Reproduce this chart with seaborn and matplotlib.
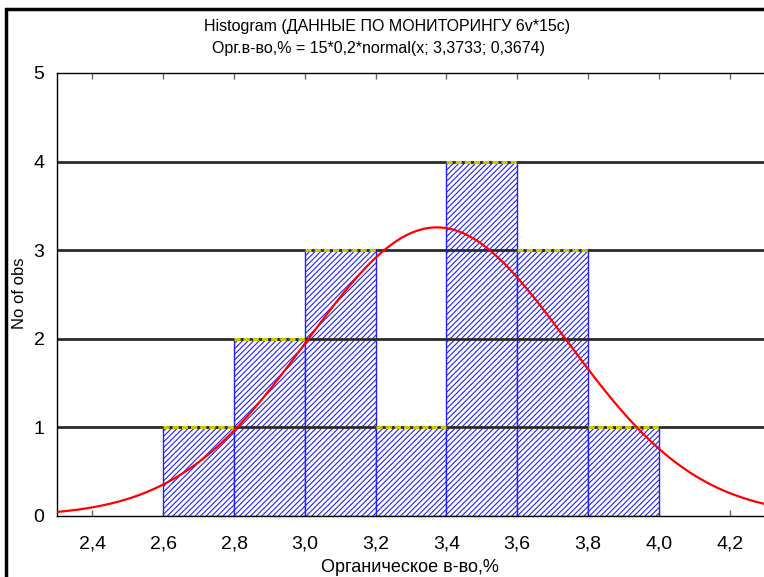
import numpy as np
import pandas as pd
import matplotlib
matplotlib.use("Agg")
import matplotlib.pyplot as plt
import seaborn as sns
from matplotlib.patches import Rectangle
from matplotlib.ticker import FuncFormatter, FixedLocator

# ---- data ----
bin_edges = [2.6, 2.8, 3.0, 3.2, 3.4, 3.6, 3.8, 4.0]
counts = [1, 2, 3, 1, 4, 3, 1]
fit_n = 15
fit_binwidth = 0.2
fit_mean = 3.3733
fit_sd = 0.3674
x_ticks = [2.4, 2.6, 2.8, 3.0, 3.2, 3.4, 3.6, 3.8, 4.0, 4.2]
y_ticks = [0, 1, 2, 3, 4, 5]
x_range = [2.3, 4.3]
y_range = [0, 5]
title_line1 = "Histogram (ДАННЫЕ ПО МОНИТОРИНГУ 6v*15c)"
title_line2 = "Орг.в-во,% = 15*0,2*normal(x; 3,3733; 0,3674)"
x_label = "Органическое в-во,%"
y_label = "No of obs"

sns.set_theme(style="white")
plt.rcParams["font.family"] = ["Liberation Sans", "DejaVu Sans"]
plt.rcParams["hatch.linewidth"] = 0.8

fig = plt.figure(figsize=(7.64, 5.77), dpi=100)
fig.patch.set_facecolor("white")
W, H = 764, 577
ax = fig.add_axes([57 / W, (H - 516) / H, (765 - 57) / W, (516 - 73) / H])
ax.set_facecolor("white")

centers = [(a + b) / 2 for a, b in zip(bin_edges[:-1], bin_edges[1:])]
df = pd.DataFrame({"x": centers, "n": counts})
sns.histplot(data=df, x="x", weights="n", bins=bin_edges, stat="count", ax=ax,
             element="bars", fill=True)
for p in ax.patches:
    p.set_facecolor("white")
    p.set_edgecolor("#2020ff")
    p.set_hatch("//////")
    p.set_linewidth(1.0)
    p.set_alpha(1.0)
    p.set_zorder(1)

# yellow top edges of bars
for a, b, c in zip(bin_edges[:-1], bin_edges[1:], counts):
    ax.hlines(c, a, b, colors="#c8c800", linewidth=2.2, linestyles=(0, (2, 1)), zorder=3)

# fitted normal curve
xs = np.linspace(x_range[0], x_range[1], 400)
ys = fit_n * fit_binwidth * np.exp(-0.5 * ((xs - fit_mean) / fit_sd) ** 2) / (fit_sd * np.sqrt(2 * np.pi))
sns.lineplot(x=xs, y=ys, ax=ax, color="#ff0000", linewidth=1.6, zorder=4)

ax.set_xlim(*x_range)
ax.set_ylim(*y_range)
ax.xaxis.set_major_locator(FixedLocator(x_ticks))
ax.yaxis.set_major_locator(FixedLocator(y_ticks))
ax.xaxis.set_major_formatter(FuncFormatter(lambda v, p: f"{v:.1f}".replace(".", ",")))
ax.yaxis.set_major_formatter(FuncFormatter(lambda v, p: f"{int(round(v))}"))

ax.grid(False)
for yv in y_ticks[1:-1]:
    ax.axhline(yv, color="#2b2b2b", linewidth=2.0, zorder=2)

for s in ["left", "bottom", "top", "right"]:
    ax.spines[s].set_color("black")
    ax.spines[s].set_linewidth(1.0)
    ax.spines[s].set_visible(True)

ax.tick_params(axis="x", which="major", direction="in", length=4, width=1, color="#666666",
               top=True, bottom=True, labelsize=14, pad=14, labelcolor="black")
ax.tick_params(axis="y", which="major", direction="in", length=0, labelsize=14, pad=9,
               labelcolor="black")

ax.set_xlabel(x_label, fontsize=13, color="black")
ax.set_ylabel(y_label, fontsize=12, color="black")
ax.xaxis.set_label_coords((410 - 57) / (765 - 57), -(559 - 516) / (516 - 73))
ax.yaxis.set_label_coords(-(57 - 27) / (765 - 57), (516 - 293) / (516 - 73))

fig.text(387 / W, 1 - 27 / H, title_line1, ha="center", va="center", fontsize=11.5, color="black")
fig.text(379 / W, 1 - 49 / H, title_line2, ha="center", va="center", fontsize=11.5, color="black")

frame = Rectangle((6 / W, -0.2), 2.0, 1.2 - 9 / H, transform=fig.transFigure,
                  fill=False, edgecolor="black", linewidth=2.5, clip_on=False)
fig.add_artist(frame)

fig.savefig("out.png", dpi=100, facecolor="white")
